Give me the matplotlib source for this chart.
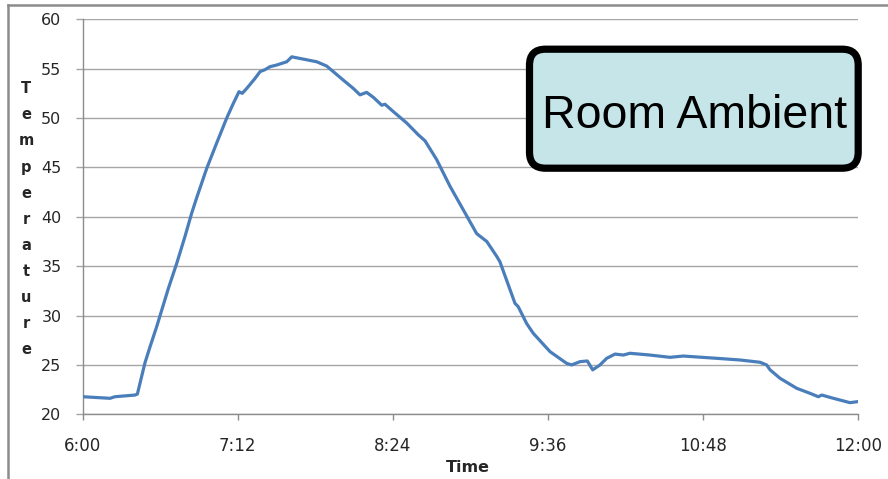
import matplotlib
matplotlib.use("Agg")
import matplotlib.pyplot as plt
from matplotlib.patches import FancyBboxPatch
from matplotlib.lines import Line2D

# ---- data (minutes after 6:00, temperature) ----
minutes = [0, 12.7, 15, 24.3, 25.4, 28.9, 31.3, 34.4, 39.8, 43.7, 47.5, 50.6, 52.9,
           57.6, 62.2, 66.9, 70, 72.6, 74.1, 76.2, 80, 82.4, 84.7, 87, 90.1, 94.8,
           97.1, 108.7, 113.3, 116.4, 121, 125.7, 128.8, 131.9, 135, 138.9, 140.4,
           144.3, 150.5, 155.9, 159, 164.4, 170.6, 176.8, 183, 187.7, 192.3, 193.8,
           200.8, 202.3, 206.2, 209.3, 217.1, 224.8, 227.1, 231, 234.4, 236.9, 240.3,
           243.4, 247.3, 251.1, 254.2, 263.5, 272.8, 279, 294.5, 305.3, 314.6, 317.7,
           319.3, 323.9, 327.8, 331.7, 337.8, 341.7, 343.3, 348.7, 356.4, 360]
temps = [21.78, 21.62, 21.78, 21.95, 22.05, 25.2, 26.85, 28.9, 32.75, 35.3, 38.0,
         40.35, 41.9, 44.9, 47.45, 50.0, 51.5, 52.67, 52.5, 53.0, 54.0, 54.7, 54.9,
         55.2, 55.37, 55.7, 56.2, 55.7, 55.27, 54.7, 53.85, 53.0, 52.35, 52.6, 52.1,
         51.3, 51.4, 50.65, 49.5, 48.3, 47.7, 45.8, 43.1, 40.7, 38.3, 37.5, 36.0,
         35.45, 31.24, 30.9, 29.2, 28.2, 26.34, 25.16, 25.0, 25.33, 25.4, 24.5, 25.0,
         25.67, 26.1, 26.0, 26.18, 26.0, 25.77, 25.9, 25.67, 25.5, 25.27, 25.0, 24.5,
         23.65, 23.14, 22.63, 22.13, 21.78, 21.95, 21.62, 21.18, 21.28]
x_ticks = [0, 72, 144, 216, 288, 360]
x_labels = ["6:00", "7:12", "8:24", "9:36", "10:48", "12:00"]
y_ticks = [20, 25, 30, 35, 40, 45, 50, 55, 60]
y_label = "Temperature"
x_label = "Time"
box_text = "Room Ambient"

W, H = 888, 479
fig = plt.figure(figsize=(W / 100, H / 100), dpi=100)
fig.patch.set_facecolor("white")

ax = fig.add_axes([82.7 / W, (H - 414.3) / H, 775 / W, 395 / H])
ax.plot(minutes, temps, color="#4a7ebb", lw=2.3, solid_joinstyle="round", zorder=3)
ax.set_xlim(0, 360)
ax.set_ylim(20, 60)
ax.set_xticks(x_ticks)
ax.set_xticklabels(x_labels)
ax.set_yticks(y_ticks)
ax.set_yticklabels([str(v) for v in y_ticks])
ax.grid(axis="y", color="#a6a6a6", lw=1.0, zorder=1)
for s in ["top", "right"]:
    ax.spines[s].set_visible(False)
for s in ["left", "bottom"]:
    ax.spines[s].set_color("#8c8c8c")
    ax.spines[s].set_linewidth(1.0)
ax.tick_params(axis="y", direction="out", length=5.3, width=1.0, color="#a6a6a6",
               pad=10, labelsize=11.5, labelcolor="#262626")
ax.tick_params(axis="x", direction="out", length=4.5, width=1.0, color="#8c8c8c",
               pad=12, labelsize=12, labelcolor="#262626")
for lab in ax.get_xticklabels() + ax.get_yticklabels():
    lab.set_family("DejaVu Sans")

# x label
fig.text(468 / W, (H - 468) / H, x_label, ha="center", va="center",
         fontsize=11.5, fontweight="bold", color="#262626")
# stacked y label
for i, ch in enumerate(y_label):
    yy = 88.7 + i * 26.13
    fig.text(26 / W, (H - yy) / H, ch, ha="center", va="center",
             fontsize=10.5, fontweight="bold", color="#262626")

# annotation box
bx0, bx1 = 529.5, 858.2
by0, by1 = H - 168.2, H - 49.2
box = FancyBboxPatch((bx0 / W, by0 / H), (bx1 - bx0) / W, (by1 - by0) / H,
                     boxstyle="round,pad=0,rounding_size=0.018",
                     transform=fig.transFigure, facecolor="#c5e5e8",
                     edgecolor="black", lw=5.2, zorder=5, mutation_aspect=W / H)
fig.add_artist(box)
fig.text(694.2 / W, (H - 128.3) / H, box_text, ha="center", va="baseline",
         fontsize=33.5, family="Liberation Sans", color="black", zorder=6)

# figure frame (top and left)
fig.add_artist(Line2D([7.5 / W, 7.5 / W], [0, (H - 5) / H], transform=fig.transFigure,
                      color="#8c8c8c", lw=1.8))
fig.add_artist(Line2D([7.5 / W, 1], [(H - 5) / H, (H - 5) / H], transform=fig.transFigure,
                      color="#8c8c8c", lw=1.8))

fig.savefig("out.png", dpi=100)
